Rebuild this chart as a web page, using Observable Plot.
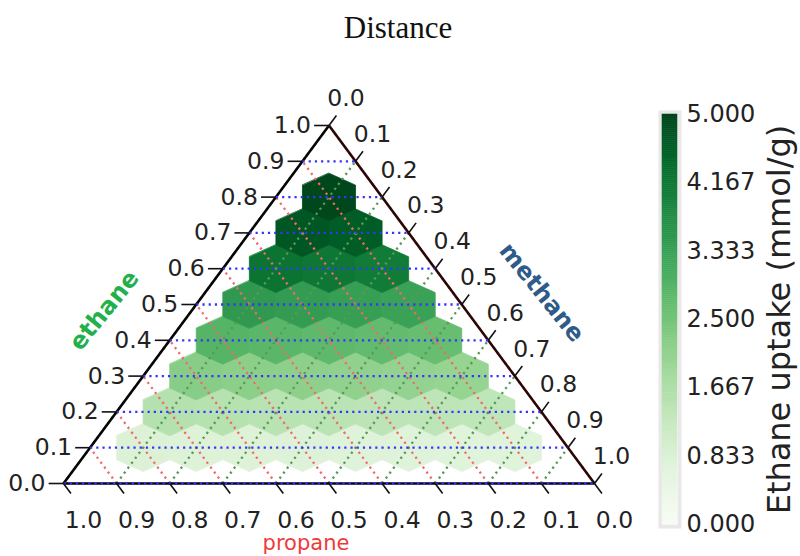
<!DOCTYPE html>
<html><head><meta charset="utf-8">
<script src="https://cdn.jsdelivr.net/npm/d3@7"></script>
<script src="https://cdn.jsdelivr.net/npm/@observablehq/plot@0.6"></script>
<style>
body{margin:0;background:#fff;}
#wrap{position:relative;width:800px;height:556px;overflow:hidden;background:#fff;}
#wrap svg{position:absolute;left:0;top:0;}
#title{position:absolute;z-index:3;left:0;top:12px;width:796px;text-align:center;font:31px/31px "Liberation Serif",serif;color:#111;}
</style></head><body>
<div id="wrap"><div id="title">Distance</div></div>
<script>
// ---- data ----
const ethaneLevels = [0.1, 0.2, 0.3, 0.4, 0.5, 0.6, 0.7, 0.8];
// ethane uptake (mmol/g) per row of ethane fraction, ordered by methane fraction 0.1, 0.2, ...
const uptakeE1 = [0.80, 0.78, 0.76, 0.75, 0.73, 0.72, 0.70, 0.69];
const uptakeE2 = [1.55, 1.52, 1.48, 1.45, 1.42, 1.40, 1.37];
const uptakeE3 = [2.22, 2.18, 2.14, 2.10, 2.06, 2.02];
const uptakeE4 = [2.88, 2.82, 2.76, 2.72, 2.66];
const uptakeE5 = [3.48, 3.42, 3.36, 3.30];
const uptakeE6 = [4.22, 4.15, 4.08];
const uptakeE7 = [4.70, 4.62];
const uptakeE8 = [4.95];
const uptakeRows = [uptakeE1, uptakeE2, uptakeE3, uptakeE4, uptakeE5, uptakeE6, uptakeE7, uptakeE8];
const gridValues = [0, 0.1, 0.2, 0.3, 0.4, 0.5, 0.6, 0.7, 0.8, 0.9, 1.0];
const tickLabels = ["0.0","0.1","0.2","0.3","0.4","0.5","0.6","0.7","0.8","0.9","1.0"];
const colorbarTicks = [0, 0.833, 1.667, 2.5, 3.333, 4.167, 5];
const colorDomain = [0, 5];
const axisNames = {left: "ethane", right: "methane", bottom: "propane"};
const colorbarLabel = "Ethane uptake (mmol/g)";

// ---- ternary helpers: (methane m, ethane e) -> plot x,y ----
const tx = (m, e) => m + e / 2;
const step = 0.1;
const hexDeltas = [[-1/3, 2/3], [1/3, 1/3], [2/3, -1/3], [1/3, -2/3], [-1/3, -1/3], [-2/3, 1/3]];

const hexVerts = [];
ethaneLevels.forEach((e, i) => {
  uptakeRows[i].forEach((v, j) => {
    const m = step * (j + 1);
    const id = `${i}-${j}`;
    hexDeltas.forEach(([dm, de]) => {
      const mm = m + dm * step, ee = e + de * step;
      hexVerts.push({id, v, x: tx(mm, ee), y: ee});
    });
  });
});

const gl = gridValues.slice(0, 10);
const blueLines = gl.map(v => ({x1: tx(0, v), y1: v, x2: tx(1 - v, v), y2: v}));
const redLines = gl.map(v => ({x1: tx(1 - v, 0), y1: 0, x2: tx(0, 1 - v), y2: 1 - v}));
const greenLines = gl.map(v => ({x1: tx(v, 0), y1: 0, x2: tx(v, 1 - v), y2: 1 - v}));

const t = 0.028;
const leftTicks = gridValues.map((v, i) => ({x1: tx(0, v), y1: v, x2: tx(-t, v), y2: v, label: tickLabels[i]}));
const rightTicks = gridValues.map((v, i) => ({x1: tx(v, 1 - v), y1: 1 - v, x2: tx(v, 1 - v + t), y2: 1 - v + t, label: tickLabels[i]}));
const bottomTicks = gridValues.map((v, i) => ({x1: tx(1 - v, 0), y1: 0, x2: tx(1 - v + t, -t), y2: -t, label: tickLabels[i]}));

const edges = [
  {x1: tx(0, 0), y1: 0, x2: tx(0, 1), y2: 1, c: "#050505"},
  {x1: tx(0, 1), y1: 1, x2: tx(1, 0), y2: 0, c: "#2a0606"},
  {x1: tx(0, 0), y1: 0, x2: tx(1, 0), y2: 0, c: "#02021a"}
];

const dots = "2.2,4";
const tickFont = 23.5;
const main = Plot.plot({
  width: 800, height: 556,
  marginLeft: 63, marginRight: 206, marginTop: 125, marginBottom: 73,
  style: {fontFamily: "DejaVu Sans", background: "transparent", overflow: "visible"},
  x: {domain: [0, 1], axis: null},
  y: {domain: [0, 1], axis: null},
  color: {type: "linear", scheme: "greens", domain: colorDomain},
  marks: [
    Plot.line(hexVerts, {x: "x", y: "y", z: "id", fill: "v", stroke: "v", strokeWidth: 0.8, curve: "linear-closed"}),
    Plot.link(redLines, {x1: "x1", y1: "y1", x2: "x2", y2: "y2", stroke: "#f06a6a", strokeWidth: 2.3, strokeDasharray: dots}),
    Plot.link(greenLines, {x1: "x1", y1: "y1", x2: "x2", y2: "y2", stroke: "#589858", strokeWidth: 2.3, strokeDasharray: dots}),
    Plot.link(edges, {x1: "x1", y1: "y1", x2: "x2", y2: "y2", stroke: d => d.c, strokeWidth: 2.6}),
    Plot.link(blueLines, {x1: "x1", y1: "y1", x2: "x2", y2: "y2", stroke: "#3535ff", strokeWidth: 2.3, strokeDasharray: dots}),
    Plot.link(leftTicks, {x1: "x1", y1: "y1", x2: "x2", y2: "y2", stroke: "#111", strokeWidth: 1.6}),
    Plot.link(rightTicks, {x1: "x1", y1: "y1", x2: "x2", y2: "y2", stroke: "#111", strokeWidth: 1.6}),
    Plot.link(bottomTicks, {x1: "x1", y1: "y1", x2: "x2", y2: "y2", stroke: "#111", strokeWidth: 1.6}),
    Plot.text(leftTicks, {x: "x1", y: "y1", text: "label", textAnchor: "end", dx: -18, fontSize: tickFont, fill: "#222"}),
    Plot.text(rightTicks, {x: "x1", y: "y1", text: "label", dx: 17, dy: -27, fontSize: tickFont, fill: "#222"}),
    Plot.text(bottomTicks, {x: "x1", y: "y1", text: "label", dx: 20, dy: 37, fontSize: tickFont, fill: "#222"}),
    Plot.text([axisNames.left], {x: tx(0, 0.5), y: 0.5, dx: -92, dy: 6, rotate: -51, fontSize: 24, fontWeight: "bold", fill: "#22b04c"}),
    Plot.text([axisNames.right], {x: tx(0.5, 0.5), y: 0.5, dx: 80, dy: -12, rotate: 51, fontSize: 24, fontWeight: "bold", fill: "#2e5b88"}),
    Plot.text([axisNames.bottom], {x: 0.5, y: 0, dx: -23, dy: 60, fontSize: 21, fill: "#f03a3a"})
  ]
});

const cbStep = 0.025;
const cbSteps = d3.range(0, 5, cbStep);
const colorbar = Plot.plot({
  width: 800, height: 556,
  marginLeft: 662, marginRight: 123, marginTop: 114, marginBottom: 32,
  style: {fontFamily: "DejaVu Sans", fontSize: "24px", background: "transparent", overflow: "visible"},
  x: {domain: [0, 1], axis: null},
  y: {domain: colorDomain, axis: null},
  color: {type: "linear", scheme: "greens", domain: colorDomain},
  marks: [
    Plot.frame({stroke: "#e8e8e8", strokeWidth: 4, inset: -2}),
    Plot.rect(cbSteps, {x1: d => 0, x2: d => 1, y1: d => d, y2: d => d + cbStep, fill: d => d + cbStep / 2, stroke: d => d + cbStep / 2, strokeWidth: 0.5}),
    Plot.axisY(colorbarTicks, {anchor: "right", tickSize: 0, tickPadding: 9, tickFormat: d3.format(".3f"), label: null, fill: "#222", fontSize: 24}),
    Plot.text([colorbarLabel], {frameAnchor: "right", textAnchor: "middle", dx: 102, dy: 0, rotate: -90, fontSize: 32, fill: "#222"})
  ]
});

const wrap = document.getElementById("wrap");
const title = document.getElementById("title");
wrap.insertBefore(main, title);
wrap.insertBefore(colorbar, title);
</script>
</body></html>
